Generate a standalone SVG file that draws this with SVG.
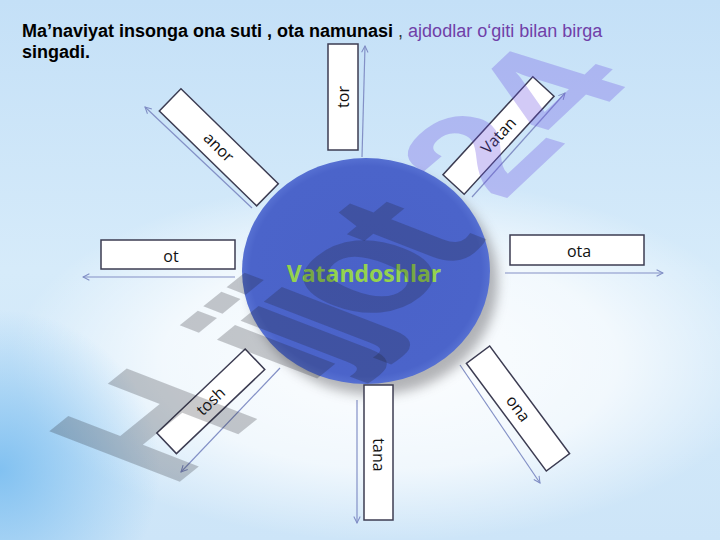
<svg xmlns="http://www.w3.org/2000/svg" width="720" height="540" viewBox="0 0 720 540">
<defs>
<linearGradient id="bg" x1="0" y1="0" x2="0" y2="1">
<stop offset="0" stop-color="#c4e0f7"/>
<stop offset="0.5" stop-color="#d6ebfa"/>
<stop offset="1" stop-color="#cde5f8"/>
</linearGradient>
<radialGradient id="glow" cx="390" cy="360" r="330" gradientUnits="userSpaceOnUse" gradientTransform="translate(390 360) scale(1.15 0.55) translate(-390 -360)">
<stop offset="0" stop-color="#ffffff" stop-opacity="0.95"/>
<stop offset="0.6" stop-color="#ffffff" stop-opacity="0.7"/>
<stop offset="1" stop-color="#ffffff" stop-opacity="0"/>
</radialGradient>
<radialGradient id="corner" cx="0" cy="470" r="160" gradientUnits="userSpaceOnUse">
<stop offset="0" stop-color="#79bdf0" stop-opacity="0.9"/>
<stop offset="1" stop-color="#79bdf0" stop-opacity="0"/>
</radialGradient>
<radialGradient id="disc" cx="0.5" cy="0.5" r="0.5">
<stop offset="0" stop-color="#4a62c8"/>
<stop offset="0.93" stop-color="#4b64ca"/>
<stop offset="1" stop-color="#5670d2"/>
</radialGradient>
<filter id="blur" x="-20%" y="-20%" width="140%" height="140%">
<feGaussianBlur stdDeviation="6"/>
</filter>
<marker id="arr" viewBox="0 0 10 10" refX="9" refY="5" markerWidth="8" markerHeight="8" orient="auto" markerUnits="userSpaceOnUse">
<path d="M1,1 L9,5 L1,9" fill="none" stroke="#7f8cc4" stroke-width="1.3"/>
</marker>
<style>
.box{fill:#ffffff;stroke:#3c3c52;stroke-width:1.5}
.lbl{font-family:"Open Sans","DejaVu Sans",sans-serif;font-size:16px;fill:#111111;text-anchor:middle}
.con{stroke:#8390c6;stroke-width:1.2;fill:none;marker-end:url(#arr)}
.title{font-family:"Liberation Sans",Arial,sans-serif;font-size:18px}
.wm{font-family:"Liberation Sans",Arial,sans-serif;font-weight:bold;font-size:100px}
.gray{fill:#1e1e24;fill-opacity:0.24}
</style>
</defs>

<rect width="720" height="540" fill="url(#bg)"/>
<rect width="720" height="540" fill="url(#glow)"/>
<rect width="720" height="540" fill="url(#corner)"/>

<g id="title">
<text class="title" x="22" y="37"><tspan font-weight="bold" fill="#000">Ma’naviyat insonga ona suti , ota namunasi</tspan><tspan fill="#333"> , </tspan><tspan fill="#7040a8">ajdodlar o‘giti bilan birga</tspan></text>
<text class="title" x="22" y="58" font-weight="bold" fill="#000">singadi.</text>
</g>

<g id="connectors">
<line class="con" x1="362" y1="157" x2="365" y2="46"/>
<line class="con" x1="252" y1="208" x2="145" y2="107"/>
<line class="con" x1="472" y1="197" x2="565" y2="93"/>
<line class="con" x1="235" y1="277" x2="83" y2="277"/>
<line class="con" x1="505" y1="273" x2="663" y2="273"/>
<line class="con" x1="280" y1="368" x2="181" y2="472"/>
<line class="con" x1="357" y1="400" x2="357" y2="523"/>
<line class="con" x1="460" y1="365" x2="540" y2="483"/>
</g>

<g id="center">
<ellipse cx="374" cy="282" rx="124" ry="113" fill="#6a6a70" opacity="0.5" filter="url(#blur)"/>
<ellipse cx="366" cy="271" rx="124" ry="113" fill="url(#disc)"/>
<text x="364" y="282" font-family="'Open Sans','DejaVu Sans',sans-serif" font-weight="bold" font-size="23" fill="#94d34e" text-anchor="middle">Vatandoshlar</text>
</g>

<g id="node-tor">
<rect class="box" x="328" y="44" width="30" height="106"/>
<text class="lbl" transform="translate(343 97) rotate(-90)" y="5.5">tor</text>
</g>
<g id="node-anor" transform="translate(218.8 147.3) rotate(44.3)">
<rect class="box" x="-68" y="-15.5" width="136" height="31"/>
<text class="lbl" y="5.5">anor</text>
</g>
<g id="node-vatan" transform="translate(498.5 135.5) rotate(-47.5)">
<rect class="box" x="-66.5" y="-14.4" width="133" height="28.8"/>
<text class="lbl" y="5.5">Vatan</text>
</g>
<g id="node-ot">
<rect class="box" x="101" y="240" width="134" height="29"/>
<text class="lbl" x="171" y="262">ot</text>
</g>
<g id="node-ota">
<rect class="box" x="510" y="235" width="134" height="30"/>
<text class="lbl" x="579" y="257">ota</text>
</g>
<g id="node-tosh" transform="translate(210.8 401.3) rotate(-43.6)">
<rect class="box" x="-61" y="-14.2" width="122" height="28.4"/>
<text class="lbl" y="5.5">tosh</text>
</g>
<g id="node-tana">
<rect class="box" x="364" y="385" width="29" height="135"/>
<text class="lbl" transform="translate(378.5 455) rotate(90)" y="5.5">tana</text>
</g>
<g id="node-ona" transform="translate(518 408.5) rotate(53.4)">
<rect class="box" x="-67" y="-14.5" width="134" height="29"/>
<text class="lbl" y="5.5">ona</text>
</g>

<g id="watermark">
<text class="wm gray" transform="matrix(1.3175 -1.071 1.897 0.734 171 489)">H</text>
<text class="wm gray" transform="matrix(1.3175 -1.071 1.897 0.734 308 386)" letter-spacing="-10">ijjot</text>
<text class="wm" transform="matrix(1.204 -1.133 1.676 0.517 503 202)" fill="#6a50e0" fill-opacity="0.3">24</text>
</g>
</svg>
